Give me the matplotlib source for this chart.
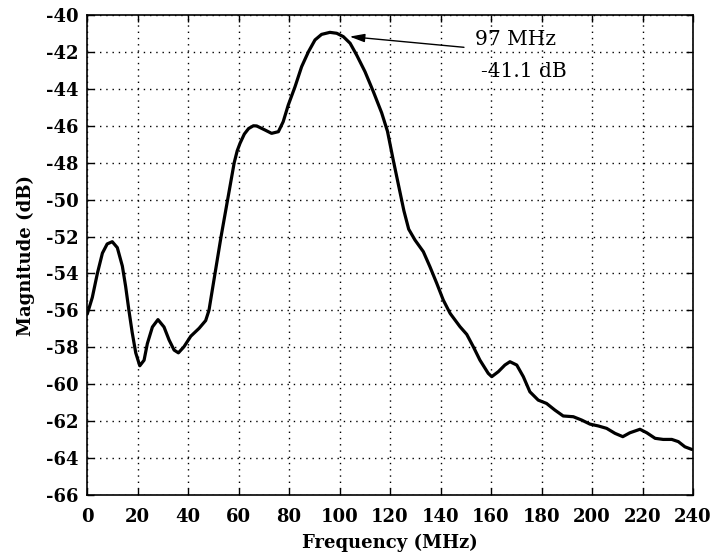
import matplotlib
matplotlib.use("Agg")
import matplotlib.pyplot as plt

# Frequency (MHz) and magnitude (dB)
freq_mhz = [0.1, 2.1, 4.1, 6.1, 8.0, 10.0, 12.0, 14.0, 15.3, 16.6, 17.9, 19.3, 20.9,
            22.6, 23.9, 25.9, 28.1, 30.5, 32.5, 34.5, 36.2, 38.4, 41.1, 44.4, 47.0,
            48.3, 49.5, 50.7, 51.9, 53.1, 54.4, 55.7, 57.0, 58.3, 59.5, 60.6, 62.3,
            64.0, 65.9, 67.2, 70.5, 73.1,
            75.8, 77.7, 79.7, 82.4, 85.0, 87.7, 90.3, 92.9, 96.2, 98.9, 101.5, 104.2,
            106.8, 110.1, 113.4, 116.7, 119.0, 121.2, 123.5, 125.5, 127.4, 129.9,
            133.2, 135.8, 138.5, 141.1, 143.8, 147.7, 150.4, 153.0, 155.6, 158.9,
            160.3, 162.9, 165.5, 167.5, 170.2, 172.8, 175.4, 178.7, 182.0, 185.3,
            188.6, 192.6, 195.9, 199.2, 202.5, 205.8, 209.1, 212.2, 215.0, 219.0,
            221.7, 225.0, 228.2, 231.6, 234.2, 236.8, 239.5]
magnitude_db = [-56.2, -55.3, -54.0, -52.9, -52.4, -52.28, -52.6, -53.6, -54.7, -56.0,
                -57.2, -58.3, -59.0, -58.7, -57.8, -56.9, -56.5, -56.9, -57.6, -58.15,
                -58.3, -57.97, -57.4, -56.97, -56.55,
                -56.0, -55.0, -54.0, -53.0, -52.0, -51.0, -50.0, -49.0, -48.0, -47.35,
                -46.95, -46.45, -46.15, -46.0, -46.01, -46.23, -46.41,
                -46.32, -45.78,
                -44.88, -43.88, -42.8, -41.99, -41.35, -41.05, -40.94, -40.99, -41.17,
                -41.53, -42.17, -43.07, -44.15, -45.3, -46.3, -47.8, -49.3, -50.6,
                -51.6, -52.19, -52.82, -53.63, -54.53, -55.44, -56.16, -56.88, -57.3,
                -57.97, -58.69, -59.41, -59.59, -59.32, -58.96, -58.78, -58.96, -59.59,
                -60.41, -60.86, -61.04, -61.4, -61.72, -61.76, -61.94, -62.16, -62.26,
                -62.39, -62.66, -62.84, -62.63, -62.44, -62.63, -62.93, -62.99, -62.99,
                -63.11, -63.39, -63.53]

peak_freq = 97
peak_db = -41.1
x_ticks = list(range(0, 241, 20))
y_ticks = list(range(-66, -39, 2))

plt.rcParams['axes.unicode_minus'] = False
plt.rcParams['font.family'] = ['DejaVu Serif']

fig = plt.figure(figsize=(7.14, 5.56), dpi=100)
ax = fig.add_axes([87/714, 1 - 495/556, (693 - 87)/714, (495 - 15)/556])

ax.plot(freq_mhz, magnitude_db, color='black', linewidth=2.3,
        solid_joinstyle='round', solid_capstyle='round')

ax.set_xlim(0, 240)
ax.set_ylim(-66, -40)
ax.set_xticks(x_ticks)
ax.set_yticks(y_ticks)
ax.tick_params(direction='in', length=5, width=1, top=True, right=True,
               labelsize=13)
ax.tick_params(axis='x', pad=9)
ax.tick_params(axis='y', pad=6)
for lab in ax.get_xticklabels() + ax.get_yticklabels():
    lab.set_fontweight('bold')
ax.grid(True, linestyle=(0, (1, 3.5)), color='black', linewidth=1.0)
for sp in ax.spines.values():
    sp.set_linewidth(1.2)

ax.set_xlabel('Frequency (MHz)', fontsize=13, fontweight='bold', labelpad=6)
ax.set_ylabel('Magnitude (dB)', fontsize=13, fontweight='bold', labelpad=8)

ax.annotate('', xy=(104, -41.17), xytext=(149.3, -41.75),
            arrowprops=dict(arrowstyle='-|>,head_length=0.9,head_width=0.25',
                            color='black', linewidth=1.0, shrinkA=0, shrinkB=0))
ax.text(153.7, -41.35, f'{peak_freq} MHz', fontsize=14.5, ha='left', va='center')
ax.text(156.0, -43.05, f'{peak_db} dB', fontsize=14.5, ha='left', va='center')

fig.savefig('out.png', dpi=100)
